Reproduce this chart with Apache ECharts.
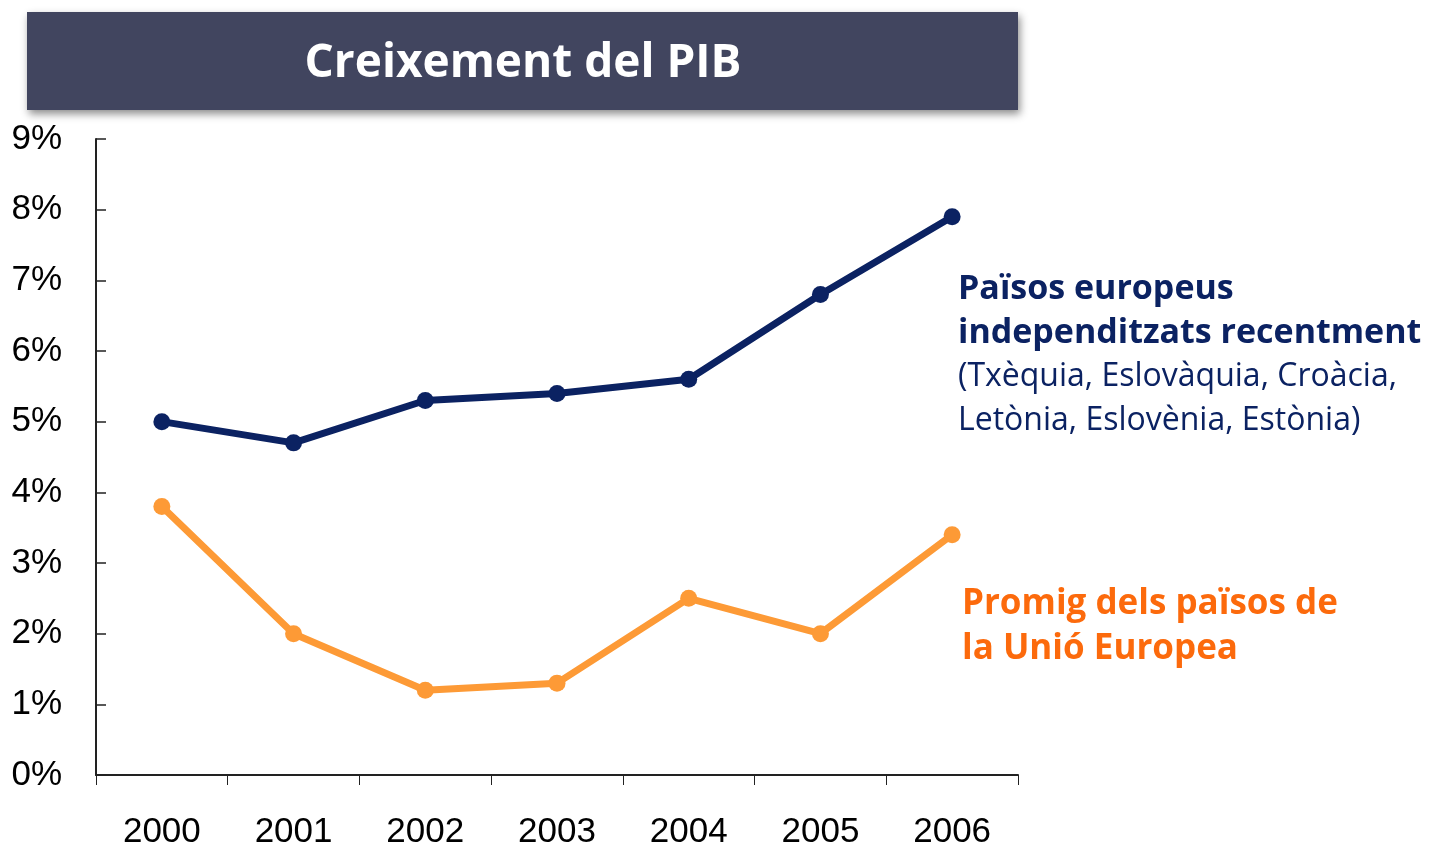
<!DOCTYPE html>
<html>
<head>
<meta charset="utf-8">
<title>Creixement del PIB</title>
<script src="https://cdn.jsdelivr.net/npm/echarts@6/dist/echarts.min.js"></script>
<style>
  html, body { margin: 0; padding: 0; background: #fff; }
  #main { width: 1435px; height: 846px; }
</style>
</head>
<body>
<div id="main"></div>
<script>
// dades del gràfic
const anys = ["2000", "2001", "2002", "2003", "2004", "2005", "2006"];
const independitzats = [5.0, 4.7, 5.3, 5.4, 5.6, 6.8, 7.9];
const unioEuropea = [3.8, 2.0, 1.2, 1.3, 2.5, 2.0, 3.4];
const titol = "Creixement del PIB";
const etiquetaBlau = ["Països europeus", "independitzats recentment", "(Txèquia, Eslovàquia, Croàcia,", "Letònia, Eslovènia, Estònia)"];
const etiquetaTaronja = ["Promig dels països de", "la Unió Europea"];

const blau = "#0b2262";
const taronja = "#fd9a36";
const taronjaText = "#fc6a0c";
const lletra = "'Open Sans', Lato, sans-serif";
const lletraEixos = "'Liberation Sans', Arial, sans-serif";

const chart = echarts.init(document.getElementById("main"));

const options = {
  animation: false,
  grid: {
    left: 96,
    right: 417,
    top: 139,
    bottom: 71,
    containLabel: false,
    outerBoundsMode: "none",
  },
  xAxis: {
    type: "category",
    data: anys,
    boundaryGap: true,
    axisLine: { lineStyle: { color: "#222", width: 2 } },
    axisTick: { show: true, length: 10, lineStyle: { color: "#222", width: 1 } },
    axisLabel: {
      color: "#000",
      fontSize: 35,
      fontFamily: lletraEixos,
      margin: 40,
    },
  },
  yAxis: {
    type: "value",
    min: 0,
    max: 9,
    interval: 1,
    splitLine: { show: false },
    axisLine: { show: true, lineStyle: { color: "#222", width: 2 } },
    axisTick: { show: true, inside: true, length: 10, lineStyle: { color: "#222", width: 1.5 } },
    axisLabel: {
      color: "#000",
      fontSize: 35,
      fontFamily: lletraEixos,
      margin: 34,
      padding: [6, 0, 0, 0],
      formatter: "{value}%",
    },
  },
  series: [
    {
      name: "Països europeus independitzats recentment",
      type: "line",
      data: independitzats,
      symbol: "circle",
      symbolSize: 17,
      itemStyle: { color: blau },
      lineStyle: { color: blau, width: 7 },
    },
    {
      name: "Promig dels països de la Unió Europea",
      type: "line",
      data: unioEuropea,
      symbol: "circle",
      symbolSize: 17,
      itemStyle: { color: taronja },
      lineStyle: { color: taronja, width: 7 },
    },
  ],
  graphic: [
    {
      type: "rect",
      left: 27,
      top: 12,
      shape: { width: 991, height: 98 },
      style: {
        fill: "#41455f",
        shadowBlur: 8,
        shadowOffsetX: 2,
        shadowOffsetY: 4,
        shadowColor: "rgba(0,0,0,0.45)",
      },
      z: 10,
    },
    {
      type: "text",
      x: 523,
      y: 64,
      style: {
        text: titol,
        fill: "#fff",
        font: "bold 46px " + lletra,
        textAlign: "center",
        textVerticalAlign: "middle",
      },
      z: 11,
    },
    {
      type: "text",
      left: 958,
      top: 272,
      style: {
        text: "{b|" + etiquetaBlau[0] + "}\n{b|" + etiquetaBlau[1] + "}\n{n|" + etiquetaBlau[2] + "}\n{n|" + etiquetaBlau[3] + "}",
        fill: blau,
        rich: {
          b: { font: "bold 34px " + lletra, fill: blau, lineHeight: 44 },
          n: { font: "32px " + lletra, fill: blau, lineHeight: 44 },
        },
      },
    },
    {
      type: "text",
      left: 962,
      top: 582,
      style: {
        text: etiquetaTaronja.join("\n"),
        fill: taronjaText,
        font: "bold 35px " + lletra,
        lineHeight: 45,
      },
    },
  ],
};

chart.setOption(options);
</script>
</body>
</html>
